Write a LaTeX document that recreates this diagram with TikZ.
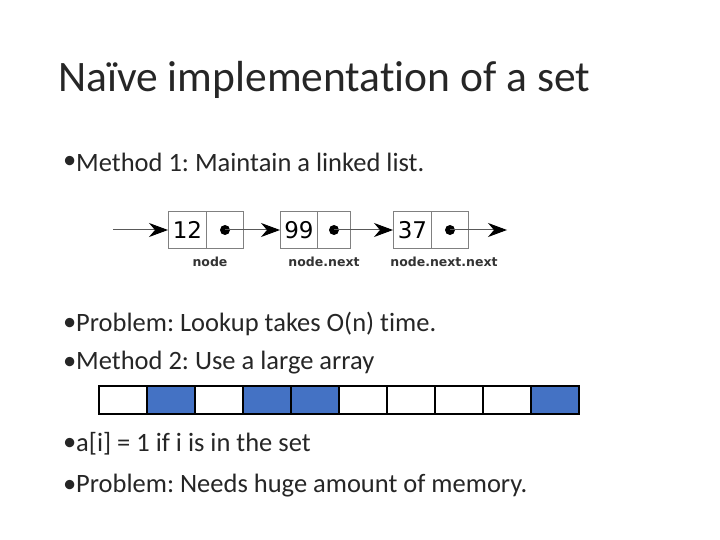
\documentclass[tikz,border=0pt]{standalone}
\usepackage{fontspec}
\setmainfont{Carlito}[Ligatures=NoCommon]
\newfontfamily\dv{DejaVu Sans}
\usetikzlibrary{arrows.meta}
\begin{document}
\frenchspacing
\begin{tikzpicture}[x=1pt,y=-1pt,
  txt/.style={anchor=west,inner sep=0pt,font=\fontsize{26.5}{30}\selectfont,text=black!85},
  cell/.style={draw=gray,line width=1pt,minimum height=37pt,inner sep=0pt},
  lbl/.style={font=\dv\bfseries\fontsize{12.5}{14}\selectfont,inner sep=0pt,text=black!80},
  num/.style={font=\dv\fontsize{23}{26}\selectfont},
  ar/.style={draw=gray!70!black,line width=1pt,-{Stealth[length=19pt,width=14pt,inset=6pt,black]}},
  arr/.style={draw=black,line width=1.5pt,minimum width=48pt,minimum height=28pt,inner sep=0pt},
  fill1/.style={arr,fill={rgb,255:red,68;green,114;blue,196}}]
\useasboundingbox (0,0) rectangle (720,540);
\node[anchor=west,inner sep=0pt,font=\fontsize{43.5}{50}\selectfont,text=black!85] (title) at (58,80) {Naïve implementation of a set};
\foreach \n/\y/\t in {b1/162/{Method 1: Maintain a linked list.},b2/324/{Problem: Lookup takes O(n) time.},b3/363/{Method 2: Use a large array},b4/444/{a[i] = 1 if i is in the set},b5/486/{Problem: Needs huge amount of memory.}}{
  \node[txt] (\n d) at (63,\y) {•};
  \node[txt] (\n) at (76,\y) {\t};
}
% linked list
\foreach \n/\x/\d/\e/\v in {a/168/206/243/12,b/280/317/350/99,c/393/431/468/37}{
  \node[cell,minimum width=\d-\x pt,anchor=west,num] (\n v) at (\x,230) {\v};
  \node[cell,minimum width=\e-\d pt,anchor=west] (\n p) at (\d,230) {};
  \fill (\n p.center) circle (5pt);
}
\coordinate (start) at (113,230);
\coordinate (end) at (507,230);
\draw[ar] (start) -- (av.west);
\draw[ar] (ap.center) -- (bv.west);
\draw[ar] (bp.center) -- (cv.west);
\draw[ar] (cp.center) -- (end);
\node[lbl] (l1) at (210,262) {node};
\node[lbl] (l2) at (324,262) {node.next};
\node[lbl] (l3) at (444,262) {node.next.next};
% array
\foreach \i in {0,...,9}{
  \pgfmathtruncatemacro{\f}{(\i==1)||(\i==3)||(\i==4)||(\i==9)}
  \ifnum\f=1 \node[fill1] (c\i) at (123+48*\i,400) {};
  \else \node[arr] (c\i) at (123+48*\i,400) {}; \fi
}
\end{tikzpicture}
\end{document}
